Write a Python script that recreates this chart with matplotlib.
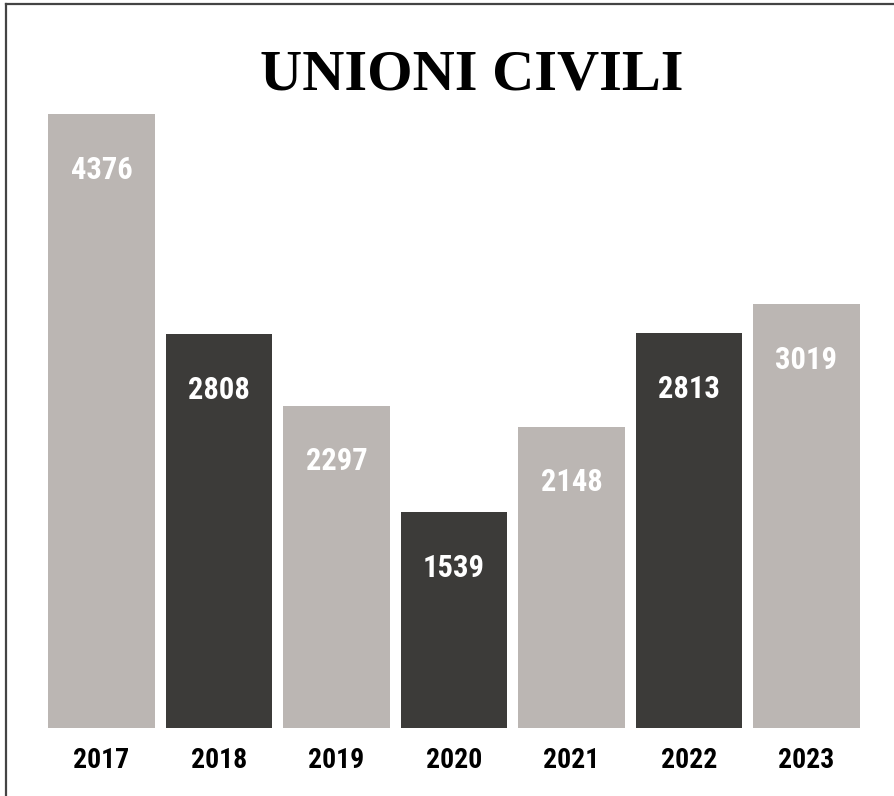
import matplotlib.pyplot as plt
from matplotlib.lines import Line2D

years = ["2017", "2018", "2019", "2020", "2021", "2022", "2023"]
unioni = [4376, 2808, 2297, 1539, 2148, 2813, 3019]

light = "#bbb6b3"
dark = "#3c3b39"
colors = [light if i % 2 == 0 else dark for i in range(len(years))]

fig = plt.figure(figsize=(8.95, 7.96), dpi=100)
W, H = 895, 796
ax = fig.add_axes([42.75 / W, 68 / H, 822.5 / W, 614 / H])

x = range(len(years))
ax.bar(x, unioni, width=0.91, color=colors)
ax.set_xlim(-0.5, len(years) - 0.5)
ax.set_ylim(0, max(unioni))
ax.axis("off")

num_font = dict(family=["Roboto Condensed", "DejaVu Sans"], weight="bold")

for i, v in enumerate(unioni):
    ax.annotate(str(v), (i, v), xytext=(0, -40), textcoords="offset points",
                ha="center", va="center", color="white", fontsize=22, **num_font)
    ax.annotate(years[i], (i, 0), xytext=(0, -23.5), textcoords="offset points",
                ha="center", va="center", color="black", fontsize=20, **num_font)

fig.text(472 / W, 1 - 76 / H, "UNIONI CIVILI", ha="center", va="center",
         family="Liberation Serif", weight="bold", fontsize=42, color="black")

# cornice (solo sopra e a sinistra)
fig.lines.append(Line2D([6.5 / W, 6.5 / W], [0, 1 - 3.5 / H], transform=fig.transFigure,
                        color="#444444", linewidth=1.6))
fig.lines.append(Line2D([5.7 / W, 1], [1 - 3.5 / H, 1 - 3.5 / H], transform=fig.transFigure,
                        color="#444444", linewidth=1.6))

fig.savefig("out.png", dpi=100)
